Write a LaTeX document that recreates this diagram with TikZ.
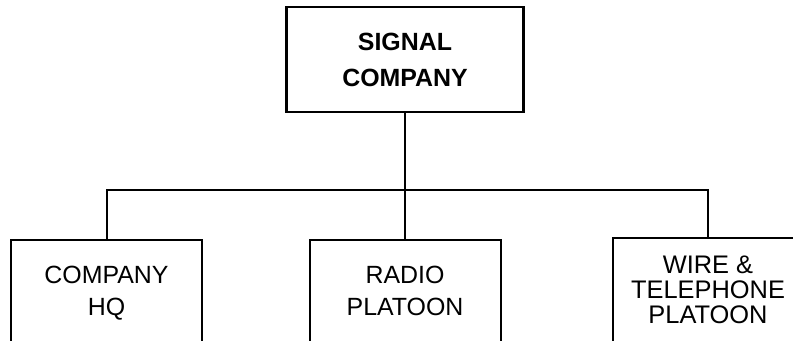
\documentclass[tikz,border=0pt]{standalone}
\usepackage{fontspec}
\setmainfont{Liberation Sans}
\usetikzlibrary{positioning}
\tikzset{
  topbox/.style={draw, line width=2.6bp, minimum width=237bp, minimum height=105bp,
    align=center, inner sep=0pt, font=\fontsize{25}{36}\selectfont\bfseries},
  unitbox/.style={draw, line width=2bp, minimum width=191bp, minimum height=102bp,
    align=center, inner sep=0pt, font=\fontsize{25}{32}\selectfont},
  link/.style={line width=2bp},
}

\begin{document}
\begin{tikzpicture}[x=1bp, y=-1bp]
\useasboundingbox (0,0) rectangle (793,340);

% ------------------------------------------------- head
\node[topbox] (sig) at (405,59.5) {SIGNAL\\COMPANY};

% ------------------------------------------------- units
\node[unitbox, minimum height=106bp] (hq) at (106.5,293) {COMPANY\\HQ};
\node[unitbox] (radio) at (405,291) {RADIO\\PLATOON};
\node[unitbox, minimum height=104bp, font=\fontsize{25.5}{25}\selectfont]
  (wire) at (708,290) {WIRE \&\\TELEPHONE\\PLATOON};

% ------------------------------------------------- tree lines
\coordinate (bus) at (405,190);
\draw[link] (sig.south) -- (radio.north);
\draw[link] (hq.north) -- (hq.north |- bus) -- (wire.north |- bus) -- (wire.north);

\end{tikzpicture}
\end{document}
